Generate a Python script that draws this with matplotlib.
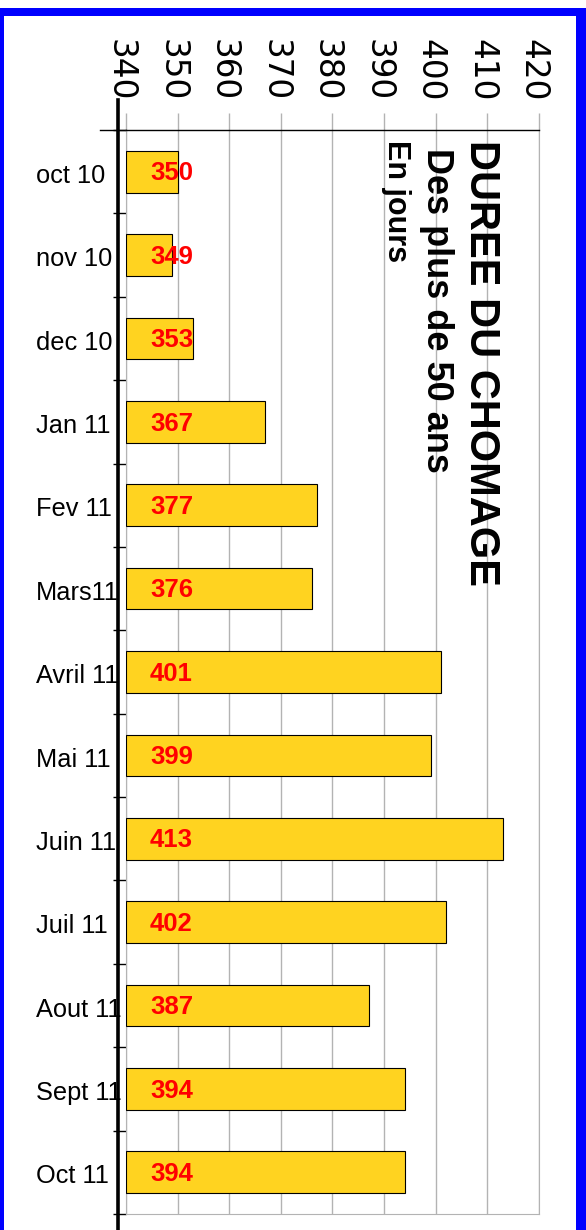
import matplotlib
matplotlib.use("Agg")
import matplotlib.pyplot as plt
import matplotlib.transforms as mtransforms
from matplotlib.patches import Rectangle

mois = ["oct 10", "nov 10", "dec 10", "Jan 11", "Fev 11", "Mars11", "Avril 11",
        "Mai 11", "Juin 11", "Juil 11", "Aout 11", "Sept 11", "Oct 11"]
jours = [350, 349, 353, 367, 377, 376, 401, 399, 413, 402, 387, 394, 394]
graduations = [340, 350, 360, 370, 380, 390, 400, 410, 420]

plt.rcParams['font.family'] = ['Liberation Sans', 'DejaVu Sans']

fig = plt.figure(figsize=(5.86, 12.30), dpi=100)

# cadre bleu
fig.patches.append(Rectangle((0, 0), 1, 1 - 8 / 1230, transform=fig.transFigure,
                             facecolor="#0000ff", edgecolor="none", zorder=-2))
fig.patches.append(Rectangle((4 / 586, 0), 572 / 586, 1 - 16 / 1230,
                             transform=fig.transFigure, facecolor="white",
                             edgecolor="none", zorder=-1))

ax = fig.add_axes([0.215, 0.0130, 0.7048, 0.8813])
ax.set_facecolor("none")

pos = list(range(len(mois)))
ax.barh(pos, [v - 340 for v in jours], left=340, height=0.5,
        color="#ffd320", edgecolor="black", linewidth=0.8, zorder=3)

ax.set_xlim(340, 420)
ax.set_ylim(len(mois) - 0.5, -0.5)

ax.set_xticks(graduations)
ax.xaxis.tick_top()
ax.tick_params(axis="x", top=True, bottom=False, labeltop=True, labelbottom=False,
               length=12.5, color="#b3b3b3", width=1, pad=8, labelrotation=-90)
decal = mtransforms.ScaledTranslation(-0.06, 0, fig.dpi_scale_trans)
for lab in ax.get_xticklabels():
    lab.set_fontfamily("DejaVu Sans")
    lab.set_fontsize(23.5)
    lab.set_transform(lab.get_transform() + decal)
ax.grid(axis="x", color="#b3b3b3", linewidth=1, zorder=0)

ax.set_yticks([p - 0.5 for p in pos] + [len(mois) - 0.5])
ax.set_yticklabels([])
ax.tick_params(axis="y", direction="out", length=9.4, width=1, color="black")

for s in ["left", "right", "bottom"]:
    ax.spines[s].set_color("#b3b3b3")
ax.spines["top"].set_color("black")
ax.spines["top"].set_linewidth(1)

# axe vertical epais et prolongement du trait du haut
ax.plot([-0.0194, -0.0194], [-0.02, 1.0277], transform=ax.transAxes,
        color="black", linewidth=2.6, clip_on=False, zorder=5)
ax.plot([-0.063, 0], [1, 1], transform=ax.transAxes, color="black",
        linewidth=1, clip_on=False)

tr = ax.get_yaxis_transform()
for i, (m, v) in enumerate(zip(mois, jours)):
    ax.text(-0.218, i + 0.05, m, transform=tr, ha="left", va="center",
            fontsize=18.3)
    ax.text(0.058, i + 0.02, str(v), transform=tr, ha="left", va="center",
            fontsize=18.5, fontweight="bold", color="red", zorder=4)

fig.text(470 / 586, 1 - 140 / 1230, "DUREE DU CHOMAGE", rotation=-90,
         rotation_mode="anchor", ha="left", va="baseline", fontsize=30,
         fontweight="bold")
fig.text(427 / 586, 1 - 148 / 1230, "Des plus de 50 ans", rotation=-90,
         rotation_mode="anchor", ha="left", va="baseline", fontsize=26,
         fontweight="bold")
fig.text(388 / 586, 1 - 140 / 1230, "En jours", rotation=-90,
         rotation_mode="anchor", ha="left", va="baseline", fontsize=22,
         fontweight="bold")

fig.savefig("out.png", dpi=100)
